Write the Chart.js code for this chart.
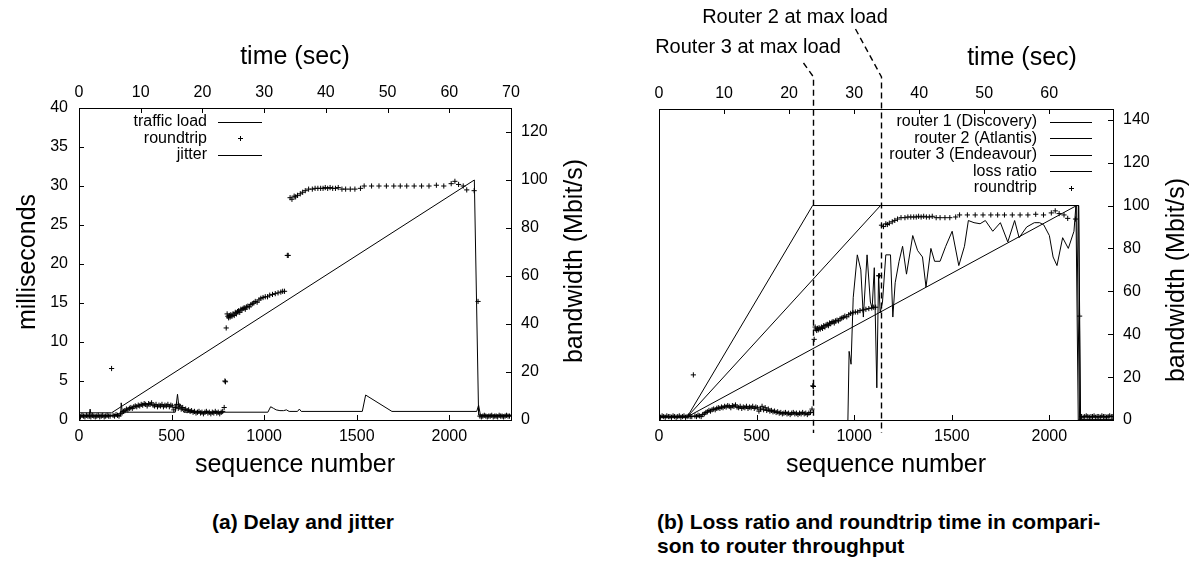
<!DOCTYPE html>
<html>
<head>
<meta charset="utf-8">
<title>Delay, jitter and loss ratio</title>
<script src="https://cdn.jsdelivr.net/npm/chart.js@4.4.0/dist/chart.umd.min.js"></script>
<style>
    html, body { margin: 0; padding: 0; background: #fff; }
    body {
        width: 1194px; height: 581px; position: relative; overflow: hidden;
        font-family: "Liberation Sans", Arial, sans-serif; color: #000;
    }
    .panel { position: absolute; top: 0; width: 597px; height: 500px; }
    #panelA { left: 0; }
    #panelB { left: 597px; }
    .caption { position: absolute; font-weight: bold; font-size: 21px; line-height: 24px; }
    #capA { left: 153px; width: 300px; top: 510px; text-align: center; }
    #capB { left: 657px; top: 510px; }
</style>
</head>
<body>
<div class="panel" id="panelA"><canvas id="chartA"></canvas></div>
<div class="panel" id="panelB"><canvas id="chartB"></canvas></div>
<div class="caption" id="capA">(a) Delay and jitter</div>
<div class="caption" id="capB">(b) Loss ratio and roundtrip time in compari-<br>son to router throughput</div>

<script>
// ============================================================================
// Data (sequence number, value)
// ============================================================================

// roundtrip time in ms, shared by both plots
const roundtrip = [
    [0,0.5],[8,0.4],[16,0.6],[24,0.5],[32,0.4],[40,0.6],[48,0.5],[56,0.5],[64,0.4],[72,0.6],
    [80,0.5],[88,0.4],[96,0.5],[104,0.6],[112,0.4],[120,0.5],[128,0.6],[136,0.4],[144,0.5],
    [152,0.6],[160,0.5],[168,0.5],[176,6.6],[184,0.6],[192,0.5],[200,0.7],[208,0.6],[216,0.5],[224,0.8],
    [232,0.9],[240,1.1],[248,1.2],[256,1.4],[264,1.3],[272,1.5],[280,1.6],[288,1.5],[296,1.7],
    [304,1.8],[312,1.7],[320,1.9],[328,1.8],
    [336,2.0],[344,1.9],[352,2.1],[360,2.0],[368,1.8],[376,2.1],[384,2.0],[392,2.2],[400,1.9],
    [408,1.8],[416,2.0],[424,1.7],[432,1.9],[440,1.8],[448,2.0],[456,1.7],[464,1.9],[472,1.8],
    [480,2.0],[488,1.7],[496,1.9],
    [504,1.8],[512,1.3],[520,1.6],[528,2.0],[536,1.5],[544,1.8],[552,1.4],[560,1.6],
    [568,1.3],[576,1.4],[584,1.2],[592,1.3],[600,1.1],[608,1.2],[616,1.0],[624,1.1],[632,0.9],
    [640,1.0],[648,1.1],[656,0.9],[664,1.0],[672,0.8],[680,1.0],[688,1.1],[696,0.9],[704,1.0],
    [712,0.8],[720,1.0],[728,0.9],[736,1.1],[744,0.9],[752,1.0],[760,0.8],[768,1.0],[776,1.1],[784,1.6],
    [788,5.0],[791,4.9],[795,11.8],[800,13.6],[804,13.3],[808,13.1],[812,13.4],[816,13.2],[820,13.5],
    [826,13.3],[832,13.6],[838,13.4],[844,13.8],[850,13.6],[856,13.9],[862,14.0],[868,13.8],[874,14.2],
    [880,14.1],[886,14.3],[892,14.4],[898,14.2],[904,14.5],[912,14.6],[920,14.5],[928,14.8],[936,14.9],
    [944,15.0],[952,15.2],[962,15.1],[972,15.4],[982,15.6],[994,15.7],[1006,15.8],[1018,15.8],
    [1030,16.0],[1045,16.1],[1060,16.2],[1075,16.3],[1090,16.4],[1100,16.5],[1110,16.5],
    [1125,21.1],[1130,21.1],
    [1140,28.5],[1150,28.3],[1162,28.7],[1170,28.6],[1180,28.8],[1195,29.0],[1208,29.2],[1222,29.4],
    [1240,29.6],[1260,29.6],[1275,29.7],[1290,29.7],[1305,29.7],[1318,29.7],[1330,29.8],[1343,29.7],
    [1356,29.8],[1370,29.7],[1385,29.7],[1400,29.8],[1420,29.6],[1440,29.6],[1465,29.6],[1490,29.6],
    [1520,29.7],[1540,30.0],[1580,30.0],[1620,30.0],[1660,30.0],[1700,30.0],[1735,30.0],[1770,30.0],
    [1810,30.0],[1850,30.0],[1890,30.0],[1930,30.1],[1970,30.0],[2010,30.3],[2030,30.6],[2050,30.2],
    [2075,30.0],[2094,29.5],[2134,29.4],[2155,15.2],
    [2165,0.5],[2173,0.4],[2181,0.5],[2189,0.6],[2197,0.5],[2205,0.4],[2213,0.5],[2221,0.5],
    [2229,0.6],[2237,0.4],[2245,0.5],[2253,0.5],[2261,0.4],[2269,0.6],[2277,0.5],[2285,0.5],
    [2293,0.4],[2301,0.5],[2309,0.6],[2317,0.5],[2325,0.5]
];

// (a) jitter in ms
const jitter = [
    [0,0.6],[55,0.6],[60,1.4],[66,0.6],[225,0.6],[228,2.2],[234,1.0],[520,1.0],[532,3.3],
    [540,1.6],[548,2.0],[556,1.4],[566,1.0],[1020,1.0],[1035,1.7],[1050,1.5],[1065,1.3],
    [1085,1.2],[1105,1.2],[1120,1.3],[1135,1.1],[1180,1.1],[1190,1.4],[1200,1.1],[1530,1.1],
    [1548,3.2],[1690,1.1],[2148,1.1],[2158,1.9],[2168,0.6],[2333,0.6]
];

// (a) traffic load in Mbit/s
const trafficLoad = [[0,3],[176,3],[2135,100],[2158,2],[2333,2]];

// (b) router throughput in Mbit/s
const router1 = [[0,1.5],[145,1.5],[787,100],[2150,100],[2158,0],[2326,0]];
const router2 = [[0,1.5],[145,1.5],[1135,100],[2150,100],[2160,0],[2326,0]];
const router3 = [[0,1.5],[145,1.5],[2140,100],[2155,0],[2326,0]];

// (b) loss ratio, drawn against the bandwidth axis
const lossRatio = [
    [962,-30],[974,32],[984,26],[995,57],[1016,77],[1034,70],[1047,48],[1066,77],[1083,55],
    [1092,52],[1103,71],[1116,15],[1125,68],[1133,50],[1145,55],[1162,77],[1186,77],[1198,48],
    [1210,64],[1230,74],[1248,81],[1268,68],[1300,86],[1325,79],[1350,76],[1368,62],[1393,80],
    [1412,74],[1440,74],[1469,81],[1502,88],[1536,72],[1565,81],[1585,93],[1614,92],[1645,91.5],
    [1672,93],[1710,88],[1749,92],[1787,83],[1822,93],[1845,85],[1884,90],[1923,92],[1950,92],
    [1971,91],[2000,86],[2019,76],[2039,72],[2068,85],[2097,80],[2126,88],[2136,100],[2148,0],[2326,0]
];

// sequence numbers where routers hit max load
const maxLoadSeq = [787, 1135];
const maxLoadLabels = ['Router 3 at max load', 'Router 2 at max load'];

// tick values
const seqTicks = [0, 500, 1000, 1500, 2000];
const timeTicksA = [0, 10, 20, 30, 40, 50, 60, 70];
const timeTicksB = [0, 10, 20, 30, 40, 50, 60];
const msTicks = [0, 5, 10, 15, 20, 25, 30, 35, 40];
const bwTicksA = [0, 20, 40, 60, 80, 100, 120];
const bwTicksB = [0, 20, 40, 60, 80, 100, 120, 140];

// ============================================================================
// Helpers
// ============================================================================

Chart.defaults.font.family = '"Liberation Sans", Arial, sans-serif';
Chart.defaults.font.size = 16;
Chart.defaults.color = '#000';

const FONT = '"Liberation Sans", Arial, sans-serif';

function pts(pairs) {
    return pairs.map(p => ({ x: p[0], y: p[1] }));
}

function lineSet(label, pairs, yAxisID) {
    return {
        label, data: pts(pairs), yAxisID, xAxisID: 'x',
        showLine: true, borderColor: '#000', borderWidth: 1,
        pointRadius: 0, tension: 0
    };
}

function crossSet(label, pairs, yAxisID) {
    return {
        label, data: pts(pairs), yAxisID, xAxisID: 'x',
        showLine: false, pointStyle: 'cross', pointRadius: 2.6,
        borderColor: '#000', backgroundColor: '#000', pointBorderWidth: 1
    };
}

function axis(position, min, max, tickValues, size, padding, display = true) {
    const horizontal = position === 'top' || position === 'bottom';
    return {
        type: 'linear', position, min, max, display,
        grid: { display: false, drawTicks: false },
        border: { display: false },
        ticks: {
            padding, font: { size: 16 }, color: '#000',
            callback: v => String(v)   // no thousands separator
        },
        afterBuildTicks: s => { s.ticks = tickValues.map(v => ({ value: v })); },
        afterFit: s => { if (horizontal) s.height = size; else s.width = size; }
    };
}

// frame + ticks pointing into the plot, gnuplot style
const framePlugin = {
    id: 'frame',
    afterDatasetsDraw(chart, args, opts) {
        const { ctx, chartArea: a } = chart;
        ctx.save();
        ctx.strokeStyle = '#000';
        ctx.lineWidth = 1;
        ctx.strokeRect(Math.round(a.left) + 0.5, Math.round(a.top) + 0.5,
            Math.round(a.right - a.left), Math.round(a.bottom - a.top));
        ctx.beginPath();
        const len = 5;
        opts.scales.forEach(id => {
            const s = chart.scales[id];
            s.ticks.forEach(t => {
                const p = Math.round(s.getPixelForValue(t.value)) + 0.5;
                if (s.position === 'bottom') { ctx.moveTo(p, a.bottom); ctx.lineTo(p, a.bottom - len); }
                else if (s.position === 'top') { ctx.moveTo(p, a.top); ctx.lineTo(p, a.top + len); }
                else if (s.position === 'left') { ctx.moveTo(a.left, p); ctx.lineTo(a.left + len, p); }
                else { ctx.moveTo(a.right, p); ctx.lineTo(a.right - len, p); }
            });
        });
        ctx.stroke();
        ctx.restore();
    }
};

// axis titles at fixed places (right title reads bottom to top)
const titlePlugin = {
    id: 'axisTitles',
    afterDraw(chart, args, opts) {
        const ctx = chart.ctx;
        ctx.save();
        ctx.fillStyle = '#000';
        ctx.textAlign = 'center';
        ctx.textBaseline = 'middle';
        ctx.font = `${opts.size}px ${FONT}`;
        opts.items.forEach(t => {
            ctx.save();
            ctx.translate(t.x, t.y);
            if (t.rotate) ctx.rotate(-Math.PI / 2);
            ctx.fillText(t.text, 0, 0);
            ctx.restore();
        });
        ctx.restore();
    }
};

// key: right aligned text with sample to its right
const keyPlugin = {
    id: 'key',
    afterDraw(chart, args, opts) {
        const ctx = chart.ctx;
        ctx.save();
        ctx.font = `16px ${FONT}`;
        ctx.fillStyle = '#000';
        ctx.strokeStyle = '#000';
        ctx.lineWidth = 1;
        ctx.textAlign = 'right';
        ctx.textBaseline = 'middle';
        chart.data.datasets.forEach((ds, i) => {
            const y = opts.top + i * opts.rowHeight;
            ctx.fillText(ds.label, opts.textRight, y);
            const yy = Math.round(y) + 0.5;
            ctx.beginPath();
            if (ds.showLine) {
                ctx.moveTo(opts.sampleLeft, yy);
                ctx.lineTo(opts.sampleRight, yy);
            } else {
                const cx = Math.round((opts.sampleLeft + opts.sampleRight) / 2) + 0.5;
                ctx.moveTo(cx - 2.5, yy); ctx.lineTo(cx + 2.5, yy);
                ctx.moveTo(cx, yy - 2.5); ctx.lineTo(cx, yy + 2.5);
            }
            ctx.stroke();
        });
        ctx.restore();
    }
};

// dashed markers for "router at max load"
const maxLoadPlugin = {
    id: 'maxLoad',
    afterDraw(chart, args, opts) {
        if (!opts.items) return;
        const ctx = chart.ctx;
        const xs = chart.scales.x;
        ctx.save();
        ctx.strokeStyle = '#000';
        ctx.lineWidth = 1.4;
        ctx.setLineDash([6, 4]);
        ctx.font = `20px ${FONT}`;
        ctx.fillStyle = '#000';
        ctx.textAlign = 'center';
        ctx.textBaseline = 'middle';
        opts.items.forEach((m, i) => {
            const px = Math.round(xs.getPixelForValue(maxLoadSeq[i])) + 0.5;
            ctx.beginPath();
            ctx.moveTo(px + m.dx, m.y0);
            ctx.lineTo(px, opts.kneeY);
            ctx.lineTo(px, opts.bottomY);
            ctx.stroke();
            ctx.fillText(maxLoadLabels[i], m.textX, m.textY);
        });
        ctx.restore();
    }
};

Chart.register(framePlugin, titlePlugin, keyPlugin, maxLoadPlugin);

// ============================================================================
// Charts
// ============================================================================

function renderDelayChart() {
    const ctx = document.getElementById('chartA');
    return new Chart(ctx, {
        type: 'scatter',
        data: {
            datasets: [
                lineSet('traffic load', trafficLoad, 'y2'),
                crossSet('roundtrip', roundtrip, 'y'),
                lineSet('jitter', jitter, 'y')
            ]
        },
        options: {
            responsive: true,
            maintainAspectRatio: false,
            animation: false,
            layout: { padding: 0 },
            scales: {
                x: axis('bottom', 0, 2333, seqTicks, 80, 7),
                x2: axis('top', 0, 70, timeTicksA, 108, 6),
                y: axis('left', 0, 40, msTicks, 79, 11),
                y2: axis('right', 0, 130, bwTicksA, 86, 10)
            },
            plugins: {
                legend: { display: false },
                tooltip: { enabled: false },
                frame: { scales: ['x', 'x2', 'y', 'y2'] },
                axisTitles: {
                    size: 25,
                    items: [
                        { text: 'time (sec)', x: 295, y: 57 },
                        { text: 'sequence number', x: 295, y: 465 },
                        { text: 'milliseconds', x: 28, y: 262, rotate: true },
                        { text: 'bandwidth (Mbit/s)', x: 575, y: 261, rotate: true }
                    ]
                },
                key: { top: 122, rowHeight: 16.3, textRight: 207, sampleLeft: 218, sampleRight: 262 },
                maxLoad: {}
            }
        }
    });
}

function renderLossChart() {
    const ctx = document.getElementById('chartB');
    return new Chart(ctx, {
        type: 'scatter',
        data: {
            datasets: [
                lineSet('router 1 (Discovery)', router1, 'y2'),
                lineSet('router 2 (Atlantis)', router2, 'y2'),
                lineSet('router 3 (Endeavour)', router3, 'y2'),
                lineSet('loss ratio', lossRatio, 'y2'),
                crossSet('roundtrip', roundtrip, 'yrt')
            ]
        },
        options: {
            responsive: true,
            maintainAspectRatio: false,
            animation: false,
            layout: { padding: { left: 62 } },
            scales: {
                x: axis('bottom', 0, 2326, seqTicks, 80, 7),
                x2: axis('top', 0, 69.8, timeTicksB, 109, 6),
                yrt: axis('left', 0, 45.5, [], 0, 0, false),
                y2: axis('right', 0, 145, bwTicksB, 81, 10)
            },
            plugins: {
                legend: { display: false },
                tooltip: { enabled: false },
                frame: { scales: ['x', 'x2', 'y2'] },
                axisTitles: {
                    size: 25,
                    items: [
                        { text: 'time (sec)', x: 425, y: 58 },
                        { text: 'sequence number', x: 289, y: 465 },
                        { text: 'bandwidth (Mbit/s)', x: 580, y: 280, rotate: true }
                    ]
                },
                key: { top: 122, rowHeight: 16.4, textRight: 440, sampleLeft: 453, sampleRight: 495 },
                maxLoad: {
                    kneeY: 77,
                    bottomY: 433,
                    items: [
                        { dx: -10, y0: 63, textX: 151, textY: 47 },
                        { dx: -26, y0: 29, textX: 198, textY: 17 }
                    ]
                }
            }
        }
    });
}

document.addEventListener('DOMContentLoaded', () => {
    renderDelayChart();
    renderLossChart();
});
</script>
</body>
</html>
